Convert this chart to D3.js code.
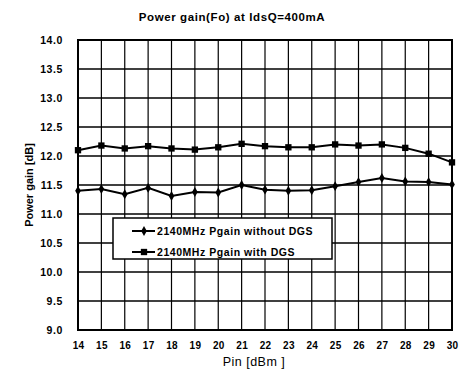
<!DOCTYPE html>
<html><head><meta charset="utf-8">
<script src="https://cdn.jsdelivr.net/npm/d3@7"></script>
<style>body{margin:0;background:#fff}svg{display:block}text{font-family:"Liberation Sans",Arial,sans-serif;fill:#000}</style>
</head><body>
<svg id="c" width="461" height="378"></svg>
<script>
const pin = [14,15,16,17,18,19,20,21,22,23,24,25,26,27,28,29,30];
const gainWithoutDGS = [11.40,11.43,11.34,11.45,11.31,11.38,11.37,11.50,11.42,11.40,11.41,11.48,11.55,11.62,11.56,11.55,11.51];
const gainWithDGS = [12.10,12.18,12.13,12.17,12.13,12.11,12.15,12.21,12.17,12.15,12.15,12.20,12.18,12.20,12.14,12.04,11.89];
const yTicks = [9.0,9.5,10.0,10.5,11.0,11.5,12.0,12.5,13.0,13.5,14.0];
const seriesNames = ["2140MHz Pgain without DGS","2140MHz Pgain with DGS"];
const title = "Power gain(Fo) at IdsQ=400mA";

const svg = d3.select("#c");
const m = {l:78, r:452, t:40, b:330};
const x = d3.scaleLinear().domain([14,30]).range([m.l,m.r]);
const y = d3.scaleLinear().domain([9,14]).range([m.b,m.t]);

// grid
const g = svg.append("g");
g.selectAll("line.v").data(pin).join("line")
  .attr("x1",d=>x(d)).attr("x2",d=>x(d)).attr("y1",m.t).attr("y2",m.b)
  .attr("stroke","#000").attr("stroke-width",1.2);
g.selectAll("line.h").data(yTicks).join("line")
  .attr("x1",m.l).attr("x2",m.r).attr("y1",d=>y(d)).attr("y2",d=>y(d))
  .attr("stroke","#000").attr("stroke-width",1.4);
svg.append("rect").attr("x",m.l).attr("y",m.t).attr("width",m.r-m.l).attr("height",m.b-m.t)
  .attr("fill","none").attr("stroke","#000").attr("stroke-width",2);

// axes
const xAxis = d3.axisBottom(x).tickValues(pin).tickSize(0).tickPadding(12).tickFormat(d3.format("d"));
const xa = svg.append("g").attr("transform",`translate(0,${m.b})`).call(xAxis);
xa.select(".domain").remove();
xa.selectAll("text").attr("font-size",10).attr("font-weight","bold").attr("letter-spacing",0.3);
const yAxis = d3.axisLeft(y).tickValues(yTicks).tickSize(0).tickPadding(15).tickFormat(d3.format(".1f"));
const ya = svg.append("g").attr("transform",`translate(${m.l},0)`).call(yAxis);
ya.select(".domain").remove();
ya.selectAll("text").attr("font-size",10.5).attr("font-weight","bold").attr("letter-spacing",0.6);

// lines
const line = d3.line().x((d,i)=>x(pin[i])).y(d=>y(d));
svg.append("path").datum(gainWithoutDGS).attr("d",line).attr("fill","none").attr("stroke","#000").attr("stroke-width",2);
svg.append("path").datum(gainWithDGS).attr("d",line).attr("fill","none").attr("stroke","#000").attr("stroke-width",2);
const diamond = d3.symbol().type(d3.symbolDiamond).size(28);
const square = d3.symbol().type(d3.symbolSquare).size(40);
svg.selectAll("path.p1").data(gainWithoutDGS).join("path")
  .attr("transform",(d,i)=>`translate(${x(pin[i])},${y(d)})`).attr("d",diamond).attr("fill","#000");
svg.selectAll("path.p2").data(gainWithDGS).join("path")
  .attr("transform",(d,i)=>`translate(${x(pin[i])},${y(d)})`).attr("d",square).attr("fill","#000");

// legend
const lg = svg.append("g");
lg.append("rect").attr("x",113).attr("y",218).attr("width",219).attr("height",41)
  .attr("fill","#fff").attr("stroke","#000").attr("stroke-width",1.5);
[0,1].forEach(i=>{
  const yy = 231 + i*21;
  lg.append("line").attr("x1",132).attr("x2",155).attr("y1",yy).attr("y2",yy).attr("stroke","#000").attr("stroke-width",2);
  lg.append("path").attr("transform",`translate(144,${yy})`).attr("d",i===0?diamond:square).attr("fill","#000");
  lg.append("text").attr("x",157).attr("y",yy+4).attr("font-size",10.5).attr("font-weight","bold").attr("letter-spacing",0.55).text(seriesNames[i]);
});

// titles
svg.append("text").attr("x",232).attr("y",21).attr("text-anchor","middle").attr("font-size",11.5).attr("font-weight","bold").attr("letter-spacing",0.6).text(title);
svg.append("text").attr("x",254).attr("y",366).attr("text-anchor","middle").attr("font-size",12.5).attr("letter-spacing",0.5).text("Pin [dBm ]");
svg.append("text").attr("transform","translate(33,185) rotate(-90)").attr("text-anchor","middle").attr("font-size",11).attr("font-weight","bold").text("Power gain [dB]");
</script>
</body></html>
